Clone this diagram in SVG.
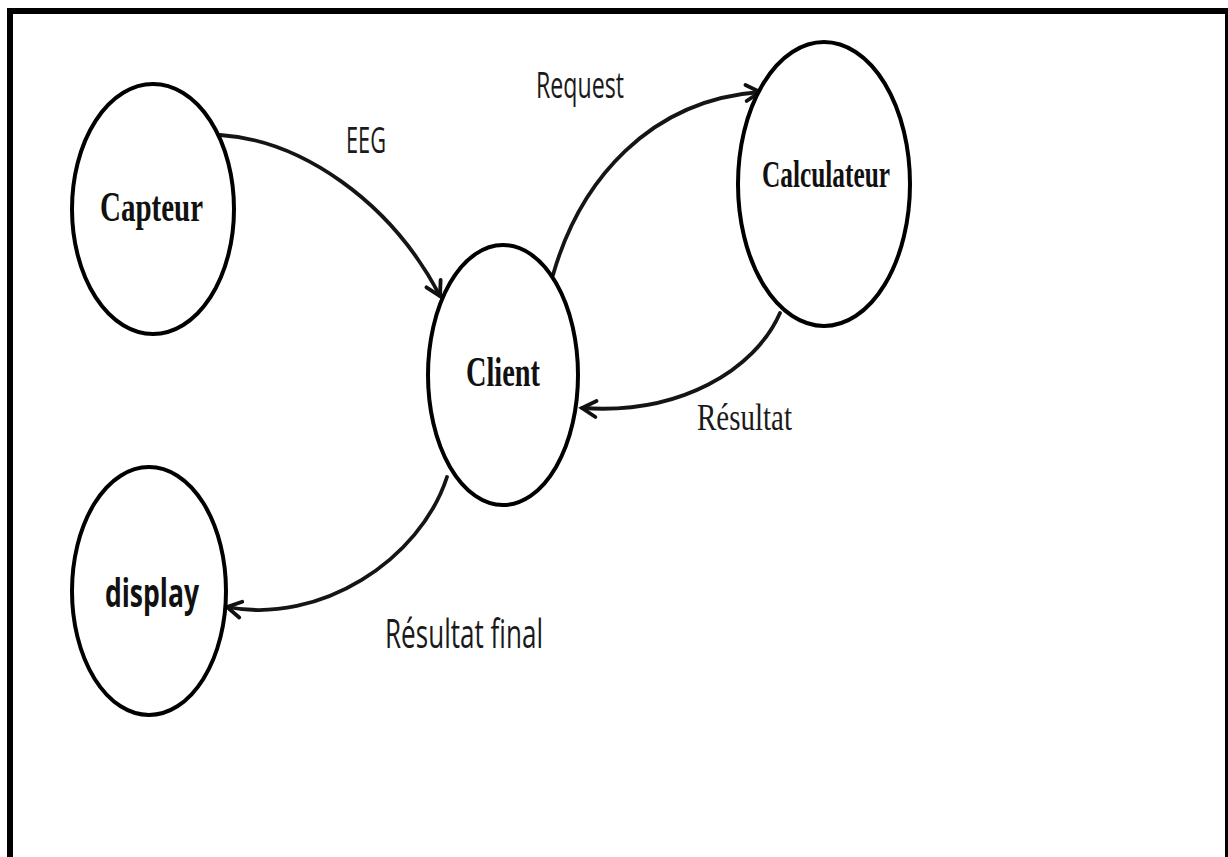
<svg xmlns="http://www.w3.org/2000/svg" width="1228" height="857" viewBox="0 0 1228 857">
  <defs>
    <marker id="arrow" markerUnits="userSpaceOnUse" markerWidth="26" markerHeight="26" viewBox="-20 -13 26 26" refX="0" refY="0" orient="auto" overflow="visible">
      <path d="M-14,-8 L0,0 L-14,8" fill="none" stroke="#111" stroke-width="3.8" stroke-linejoin="miter" stroke-linecap="round"/>
    </marker>
    <style>
      .node { fill: #fff; stroke: #000; stroke-width: 4; }
      .serif { font-family: "Liberation Serif", "Times New Roman", serif; font-weight: bold; fill: #111; }
      .bsans { font-family: "Open Sans", "Noto Sans", "Liberation Sans", sans-serif; font-weight: bold; fill: #111; }
      .lbl { font-family: "Open Sans", "Noto Sans", "Liberation Sans", sans-serif; fill: #1a1a1a; }
      .lblserif { font-family: "Liberation Serif", "Times New Roman", serif; fill: #1a1a1a; }
      .conn { fill: none; stroke: #151515; stroke-width: 3.8; stroke-linecap: round; marker-end: url(#arrow); }
    </style>
  </defs>
  <rect x="0" y="0" width="1228" height="857" fill="#fff"/>
  <rect id="frame" x="10" y="11" width="1218" height="900" fill="none" stroke="#000" stroke-width="6"/>

  <g id="connectors">
    <path class="conn" d="M220,135 C300,140 390,200 440,296"/>
    <path class="conn" d="M553,275 C580,180 650,100 760,92"/>
    <path class="conn" d="M780,313 C755,370 680,415 582,408"/>
    <path class="conn" d="M447,477 C420,560 320,625 227,607"/>
    <text class="lbl" x="346" y="153" font-size="37" textLength="40" lengthAdjust="spacingAndGlyphs">EEG</text>
    <text class="lbl" x="536" y="98" font-size="37" textLength="88" lengthAdjust="spacingAndGlyphs">Request</text>
    <text class="lblserif" x="697" y="430" font-size="37" textLength="95" lengthAdjust="spacingAndGlyphs">Résultat</text>
    <text class="lbl" x="385" y="648" font-size="40" textLength="158" lengthAdjust="spacingAndGlyphs">Résultat final</text>
  </g>

  <g id="capteur">
    <ellipse class="node" cx="153" cy="209" rx="81" ry="125"/>
    <text class="serif" x="100" y="221" font-size="42" textLength="103" lengthAdjust="spacingAndGlyphs">Capteur</text>
  </g>
  <g id="client">
    <ellipse class="node" cx="503" cy="375" rx="75" ry="130"/>
    <text class="serif" x="466" y="386" font-size="42" textLength="74" lengthAdjust="spacingAndGlyphs">Client</text>
  </g>
  <g id="calculateur">
    <ellipse class="node" cx="824" cy="184" rx="86" ry="142"/>
    <text class="serif" x="762" y="187" font-size="38" textLength="128" lengthAdjust="spacingAndGlyphs">Calculateur</text>
  </g>
  <g id="display">
    <ellipse class="node" cx="149" cy="591" rx="77" ry="124"/>
    <text class="bsans" x="105" y="607" font-size="40" textLength="94" lengthAdjust="spacingAndGlyphs">display</text>
  </g>
</svg>
